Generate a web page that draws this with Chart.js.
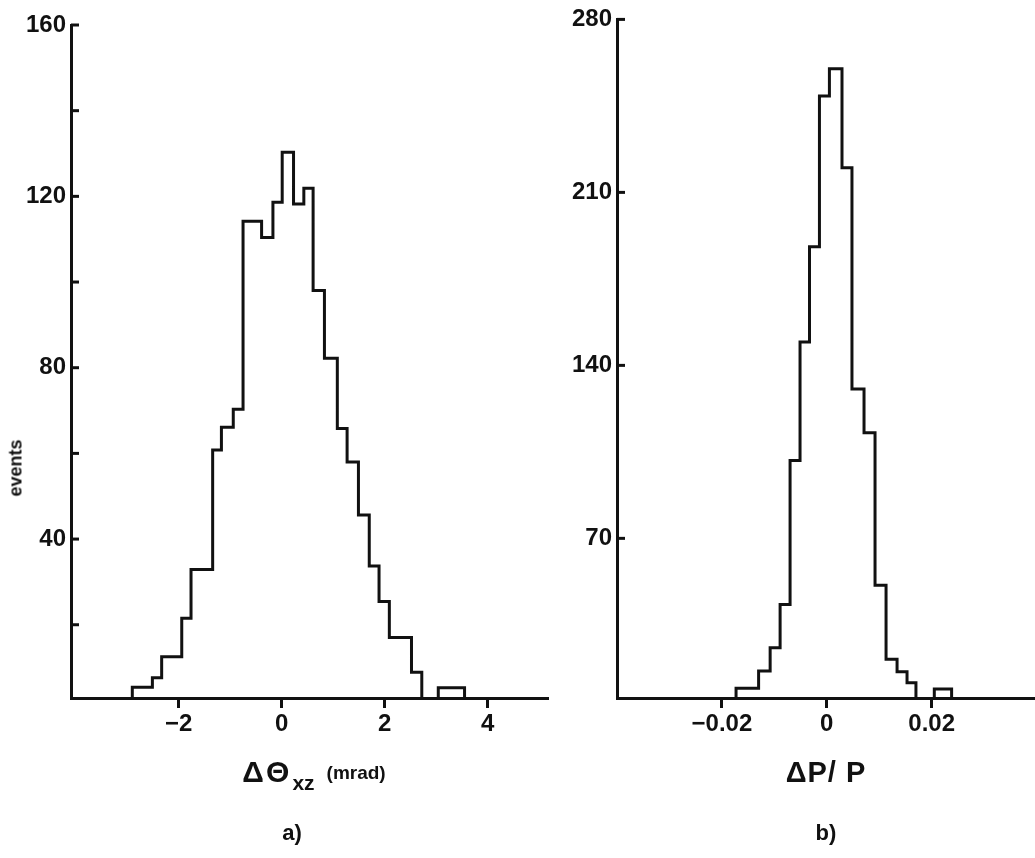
<!DOCTYPE html>
<html>
<head>
<meta charset="utf-8">
<title>Histograms</title>
<script src="https://cdn.jsdelivr.net/npm/chart.js@4/dist/chart.umd.min.js"></script>
<style>
  body { margin: 0; background: #fff; width: 1035px; height: 858px; position: relative; overflow: hidden;
         font-family: 'Liberation Sans', sans-serif; font-weight: bold; color: #111; }
  canvas { position: absolute; top: 0; }
  .lbl { position: absolute; transform: translate(-50%, -50%); white-space: nowrap; }
</style>
</head>
<body>
<canvas id="chartA" width="560" height="760" style="left:0px"></canvas>
<canvas id="chartB" width="475" height="760" style="left:560px"></canvas>

<div class="lbl" style="left:16px; top:468px; font-size:18px; transform:translate(-50%,-50%) rotate(-90deg);">events</div>
<div class="lbl" style="left:314px; top:772px;"><span style="font-size:30px; letter-spacing:3px;">ΔΘ</span><span style="font-size:21px; position:relative; top:8px;">xz</span><span style="font-size:19px; position:relative; top:-3px; margin-left:12px;">(mrad)</span></div>
<div class="lbl" style="left:826px; top:772px; font-size:29px; letter-spacing:1px;">ΔP/ P</div>
<div class="lbl" style="left:292px; top:833px; font-size:22px;">a)</div>
<div class="lbl" style="left:826px; top:833px; font-size:22px;">b)</div>

<script>
const INK = '#111';

// a) delta theta_xz (mrad): bin edges and counts
var thetaEdges = [-2.90, -2.51, -2.33, -1.94, -1.76, -1.34, -1.17, -0.94, -0.75, -0.39, -0.17, 0.01,
                  0.23, 0.43, 0.61, 0.83, 1.08, 1.27, 1.49, 1.70, 1.89, 2.09, 2.52, 2.72];
var thetaCounts = [5.4, 7.6, 12.5, 21.5, 32.9, 60.8, 66.1, 70.3, 114.2, 110.4, 118.6, 130.3,
                   118.2, 121.9, 98, 82.2, 65.8, 58, 45.6, 33.7, 25.4, 17, 8.9];
var thetaOverflowEdges = [3.04, 3.55];
var thetaOverflowCounts = [5.3];
var thetaYLabels = [40, 80, 120, 160];
var thetaYMarks = [20, 40, 60, 80, 100, 120, 140, 160];
var thetaXTicks = [-2, 0, 2, 4];

// b) delta P / P
var momEdges = [-0.0173, -0.0130, -0.0108, -0.0089, -0.0070, -0.0051, -0.0033, -0.0014, 0.0005,
                0.0029, 0.0048, 0.0071, 0.0092, 0.0113, 0.0134, 0.0153, 0.0170];
var momCounts = [9.3, 16.3, 25.7, 43.2, 101.5, 149.5, 188, 249, 260, 220, 130.4, 112.7, 51, 21.1, 16, 11.6];
var momOverflowEdges = [0.0205, 0.0238];
var momOverflowCounts = [9];
var momYLabels = [70, 140, 210, 280];
var momXTicks = [-0.02, 0, 0.02];

Chart.defaults.font.family = "'Liberation Sans', sans-serif";
Chart.defaults.font.weight = 'bold';
Chart.defaults.color = INK;

// histogram outline: explicit corners from edges + counts, closed down to the base
function outline(edges, counts, base) {
    var pts = [{x: edges[0], y: base}];
    counts.forEach((c, i) => {
        pts.push({x: edges[i], y: c});
        pts.push({x: edges[i + 1], y: c});
    });
    pts.push({x: edges[edges.length - 1], y: base});
    return pts;
}

function fmt(v) {
    return v < 0 ? '\u2212' + Math.abs(v) : String(v);
}

// y tick marks pointing into the plot, like the original
const innerTicks = {
    id: 'innerTicks',
    afterDraw(chart, args, opts) {
        const y = chart.scales.y, left = chart.chartArea.left, ctx = chart.ctx;
        ctx.save();
        ctx.strokeStyle = INK;
        ctx.lineWidth = 3;
        opts.values.forEach((v) => {
            const py = y.getPixelForValue(v);
            ctx.beginPath();
            ctx.moveTo(left, py);
            ctx.lineTo(left + 8, py);
            ctx.stroke();
        });
        ctx.restore();
    }
};

function makeChart(id, cfg) {
    const line = (pts) => ({
        data: pts, borderColor: INK, borderWidth: 3, pointRadius: 0, fill: false,
        tension: 0, borderJoinStyle: 'miter', borderCapStyle: 'square'
    });
    return new Chart(document.getElementById(id), {
        type: 'line',
        data: {datasets: [
            line(outline(cfg.edges, cfg.counts, cfg.yMin)),
            line(outline(cfg.ovEdges, cfg.ovCounts, cfg.yMin))
        ]},
        plugins: [innerTicks],
        options: {
            responsive: false,
            animation: false,
            layout: {padding: {top: cfg.top, right: cfg.right, bottom: 0, left: 0}},
            plugins: {legend: {display: false}, tooltip: {enabled: false},
                      innerTicks: {values: cfg.yMarks}},
            scales: {
                x: {
                    type: 'linear', min: cfg.xMin, max: cfg.xMax,
                    afterBuildTicks: (s) => { s.ticks = cfg.xTicks.map((v) => ({value: v})); },
                    afterFit: (s) => { s.height = 62; },
                    border: {display: true, color: INK, width: 3},
                    grid: {display: true, drawOnChartArea: false, drawTicks: true, tickLength: 10,
                           tickWidth: 3, tickColor: INK},
                    ticks: {font: {size: 24, weight: 'bold'}, color: INK, padding: 2,
                            maxRotation: 0, autoSkip: false, callback: fmt}
                },
                y: {
                    min: cfg.yMin, max: cfg.yMax,
                    afterBuildTicks: (s) => { s.ticks = cfg.yLabels.map((v) => ({value: v})); },
                    afterFit: (s) => { s.width = cfg.axisLeft; },
                    border: {display: true, color: INK, width: 3},
                    grid: {display: false, drawTicks: false},
                    ticks: {font: {size: 24, weight: 'bold'}, color: INK, padding: 5, autoSkip: false}
                }
            }
        }
    });
}

makeChart('chartA', {
    edges: thetaEdges, counts: thetaCounts, ovEdges: thetaOverflowEdges, ovCounts: thetaOverflowCounts,
    yLabels: thetaYLabels, yMarks: thetaYMarks, xTicks: thetaXTicks,
    xMin: -4.09, xMax: 5.17, yMin: 2.9, yMax: 160, top: 25, right: 12, axisLeft: 71
});

makeChart('chartB', {
    edges: momEdges, counts: momCounts, ovEdges: momOverflowEdges, ovCounts: momOverflowCounts,
    yLabels: momYLabels, yMarks: momYLabels, xTicks: momXTicks,
    xMin: -0.04, xMax: 0.0397, yMin: 5.4, yMax: 280, top: 18, right: 0, axisLeft: 57
});
</script>
</body>
</html>
